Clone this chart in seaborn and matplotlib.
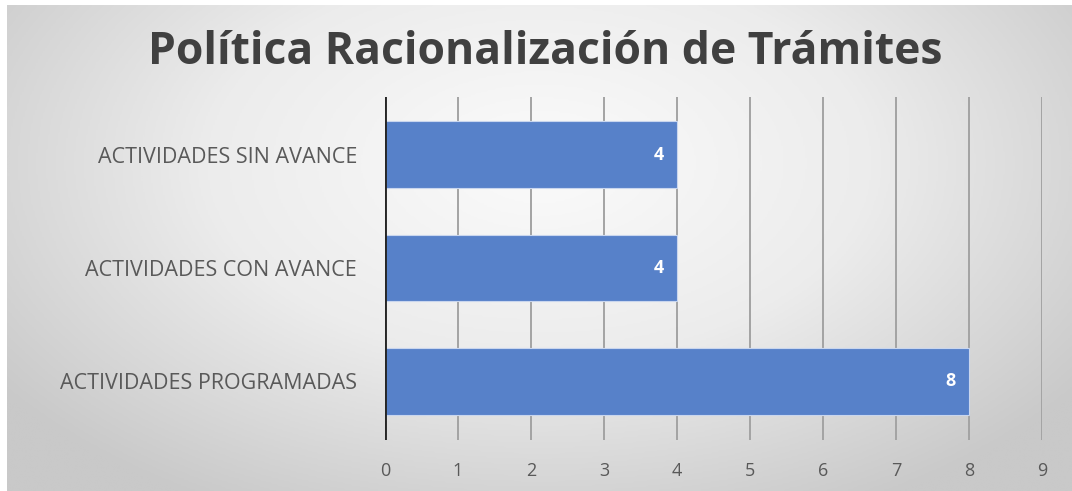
import numpy as np
import pandas as pd
import matplotlib
matplotlib.use("Agg")
import matplotlib.pyplot as plt
from matplotlib.colors import LinearSegmentedColormap
import seaborn as sns

# Data
categories = ["ACTIVIDADES SIN AVANCE", "ACTIVIDADES CON AVANCE", "ACTIVIDADES PROGRAMADAS"]
values = [4, 4, 8]
x_ticks = [0, 1, 2, 3, 4, 5, 6, 7, 8, 9]

df = pd.DataFrame({"categoria": categories, "valor": values})

sns.set_theme(style="white")
plt.rcParams["font.family"] = ["Open Sans", "DejaVu Sans"]

fig = plt.figure(figsize=(10.72, 4.91), dpi=100)
fig.patch.set_facecolor("white")

# Gradient panel behind the chart (white centre, grey edges)
bg = fig.add_axes([7 / 1072, 0, 1 - 7 / 1072, 1 - 5 / 491], zorder=0)
yy, xx = np.mgrid[-1:1:300j, -1:1:600j]
r = np.sqrt(xx ** 2 + (yy + 0.35) ** 2 * 0.6)
grad = LinearSegmentedColormap.from_list("grad", ["#fbfbfb", "#ececec", "#c9c9c9"])
bg.imshow(r, cmap=grad, vmin=0, vmax=1.25, aspect="auto",
          extent=[0, 1, 0, 1], interpolation="bilinear", origin="upper")
bg.set_axis_off()

ax = fig.add_axes([385 / 1072, 1 - 440 / 491, (1042 - 385) / 1072, (440 - 97) / 491], zorder=1)
ax.patch.set_alpha(0)

sns.barplot(data=df, x="valor", y="categoria", order=categories, orient="h",
            color="#5781c9", saturation=1, width=0.59, ax=ax, zorder=3,
            edgecolor="#c9d6ee", linewidth=0.8)

ax.set_xlim(0, 9)
ax.set_ylim(2.52, -0.51)
ax.set_xticks(x_ticks)
ax.grid(axis="x", color="#a3a3a3", linewidth=1.4, zorder=0)
ax.grid(axis="y", visible=False)
for s in ax.spines.values():
    s.set_visible(False)
ax.axvline(0, color="#262626", linewidth=2.8, zorder=4)

ax.set_xlabel("")
ax.set_ylabel("")
ax.tick_params(axis="x", length=0, pad=16, labelsize=13, labelcolor="#595959")
ax.tick_params(axis="y", length=0, pad=20, labelsize=15.5, labelcolor="#595959")

# Value labels inside the bar end
for i, v in enumerate(values):
    ax.annotate(str(v), xy=(v, i), xytext=(-13, 0), textcoords="offset pixels",
                ha="right", va="center", color="white", fontsize=13,
                fontweight="bold", zorder=5)

fig.suptitle("Política Racionalización de Trámites", x=545 / 1072, y=1 - 52 / 491,
             va="center", fontsize=32, fontweight="bold", color="#404040")

fig.savefig("out.png", dpi=100)
